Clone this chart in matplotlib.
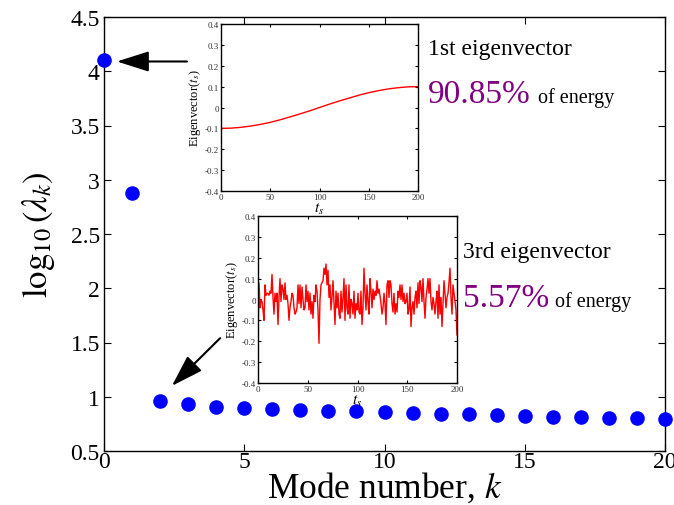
import numpy as np
import matplotlib
matplotlib.use('Agg')
import matplotlib.pyplot as plt
from matplotlib.ticker import FuncFormatter

plt.rcParams['font.family'] = ['Liberation Serif', 'DejaVu Serif']
plt.rcParams['mathtext.fontset'] = 'stix'

# eigenvalue spectrum
modes = list(range(21))
log_lambda = [4.10, 2.88, 0.96, 0.93, 0.91, 0.90, 0.89, 0.88, 0.87, 0.865, 0.86,
              0.85, 0.845, 0.84, 0.83, 0.82, 0.815, 0.81, 0.805, 0.80, 0.795]

# 1st eigenvector, read every 10 samples
ev1_t = list(range(0, 201, 10))
ev1 = [-0.100, -0.099, -0.095, -0.089, -0.081, -0.071, -0.059, -0.045, -0.031, -0.016,
       0.000, 0.016, 0.031, 0.045, 0.059, 0.071, 0.081, 0.089, 0.095, 0.099, 0.100]

# 3rd eigenvector, one value per sample
ev3 = [-0.20, 0.08, -0.04, 0.00, -0.01, -0.05, -0.10, 0.07, 0.02, 0.03,
       0.03, 0.02, 0.04, 0.03, 0.12, 0.01, -0.07, 0.03, -0.01, 0.03,
       -0.12, 0.01, 0.10, -0.01, 0.07, 0.05, 0.00, 0.08, 0.00, 0.02,
       -0.02, -0.10, -0.04, -0.01, 0.03, 0.02, -0.04, -0.07, -0.06, -0.04,
       0.07, -0.02, 0.07, -0.04, 0.06, 0.00, -0.05, -0.04, 0.07, -0.01,
       0.04, -0.05, 0.03, -0.07, -0.01, -0.09, 0.02, -0.01, 0.07, 0.04,
       -0.05, -0.21, 0.00, 0.07, 0.08, 0.09, 0.15, 0.12, 0.17, 0.07,
       0.14, 0.01, 0.07, -0.05, 0.01, 0.09, -0.02, -0.12, 0.04, -0.04,
       0.03, -0.07, -0.09, 0.04, -0.06, 0.01, 0.10, -0.10, 0.07, -0.04,
       -0.07, 0.07, -0.09, 0.00, -0.02, -0.07, 0.04, -0.09, -0.02, -0.05,
       0.03, -0.06, -0.07, 0.04, -0.12, -0.04, 0.15, 0.03, -0.05, 0.07,
       -0.01, -0.07, 0.10, 0.04, -0.04, 0.05, 0.00, 0.04, 0.02, 0.09,
       0.03, 0.05, 0.02, -0.02, -0.07, -0.04, 0.03, -0.02, -0.12, 0.07,
       0.09, 0.01, 0.09, 0.07, -0.02, -0.06, 0.03, -0.07, -0.02, -0.06,
       0.04, 0.01, 0.07, 0.00, 0.07, -0.01, 0.03, -0.02, -0.01, 0.03,
       -0.07, -0.05, 0.06, -0.13, -0.04, -0.01, -0.07, 0.01, 0.04, -0.04,
       0.08, -0.02, 0.09, 0.06, -0.01, 0.10, -0.01, -0.09, 0.01, 0.05,
       0.10, 0.03, 0.10, -0.01, -0.05, 0.01, -0.02, -0.07, -0.01, 0.04,
       -0.09, 0.07, -0.07, 0.01, -0.13, -0.02, 0.09, 0.03, -0.04, 0.01,
       0.03, 0.08, 0.15, 0.01, -0.07, 0.07, 0.03, -0.01, -0.05, -0.17]
ev3_t = np.linspace(0, 200, len(ev3))

W, H = 674, 506
fig = plt.figure(figsize=(W / 100, H / 100), dpi=100)


def px_rect(l, t, r, b):
    return [l / W, 1 - b / H, (r - l) / W, (b - t) / H]


def matlab_style(ax, size):
    ax.tick_params(direction='in', top=True, right=True, labelsize=size)
    for s in ax.spines.values():
        s.set_linewidth(1.0)


fmt = FuncFormatter(lambda v, p: '%g' % (round(v, 1) + 0.0))

ax = fig.add_axes(px_rect(104, 18, 665, 452))
ax.plot(modes, log_lambda, 'o', color='#0000ff', markersize=10.5,
        markeredgewidth=0, clip_on=False, zorder=5)
ax.set_xlim(0, 20)
ax.set_ylim(0.5, 4.5)
ax.set_xticks([0, 5, 10, 15, 20])
ax.set_yticks(np.arange(0.5, 4.51, 0.5))
ax.yaxis.set_major_formatter(fmt)
matlab_style(ax, 17)
ax.tick_params(length=5, pad=3)
ax.tick_params(axis='x', pad=0)
ax.set_xlabel('Mode number, $k$', fontsize=25.5, labelpad=-1)
ax.set_ylabel(r'$\log_{10}(\lambda_k)$', fontsize=25, labelpad=10)

arrow = dict(arrowstyle='-|>,head_length=1.1,head_width=0.35', color='k',
             lw=1.5, mutation_scale=18, shrinkA=0, shrinkB=0)
ax.annotate('', xy=(0.46, 4.09), xytext=(2.96, 4.09), arrowprops=arrow)
ax.annotate('', xy=(2.42, 1.10), xytext=(4.14, 1.54), arrowprops=arrow)

# inset: 1st eigenvector
ax1 = fig.add_axes(px_rect(221, 25, 418, 192))
ax1.plot(ev1_t, ev1, color='#ff0000', lw=1.0)
ax1.set_xlim(0, 200)
ax1.set_ylim(-0.4, 0.4)
ax1.set_xticks([0, 50, 100, 150, 200])
ax1.set_yticks(np.arange(-0.4, 0.41, 0.1))
ax1.yaxis.set_major_formatter(fmt)
matlab_style(ax1, 6.5)
ax1.tick_params(length=2, pad=1.5, labelcolor='#333333')
ax1.set_xlabel('$t_s$', fontsize=11, labelpad=0)
ax1.set_ylabel('Eigenvector($t_s$)', fontsize=9, labelpad=1)

# inset: 3rd eigenvector
ax3 = fig.add_axes(px_rect(258, 217, 457, 384))
ax3.plot(ev3_t, ev3, color='#ff0000', lw=1.0)
ax3.set_xlim(0, 200)
ax3.set_ylim(-0.4, 0.4)
ax3.set_xticks([0, 50, 100, 150, 200])
ax3.set_yticks(np.arange(-0.4, 0.41, 0.1))
ax3.yaxis.set_major_formatter(fmt)
matlab_style(ax3, 6.5)
ax3.tick_params(length=2, pad=1.5, labelcolor='#333333')
ax3.set_xlabel('$t_s$', fontsize=11, labelpad=0)
ax3.set_ylabel('Eigenvector($t_s$)', fontsize=9, labelpad=1)

# annotations
purple = '#800080'
fig.text(428 / W, 1 - 55 / H, '1st eigenvector', fontsize=17, va='baseline')
fig.text(428 / W, 1 - 103 / H, '90.85%', fontsize=24, color=purple, va='baseline')
fig.text(538 / W, 1 - 103 / H, 'of energy', fontsize=14.5, va='baseline')
fig.text(463 / W, 1 - 258 / H, '3rd eigenvector', fontsize=17, va='baseline')
fig.text(463 / W, 1 - 307 / H, '5.57%', fontsize=24, color=purple, va='baseline')
fig.text(555 / W, 1 - 307 / H, 'of energy', fontsize=14.5, va='baseline')

fig.savefig('out.png', dpi=100)
